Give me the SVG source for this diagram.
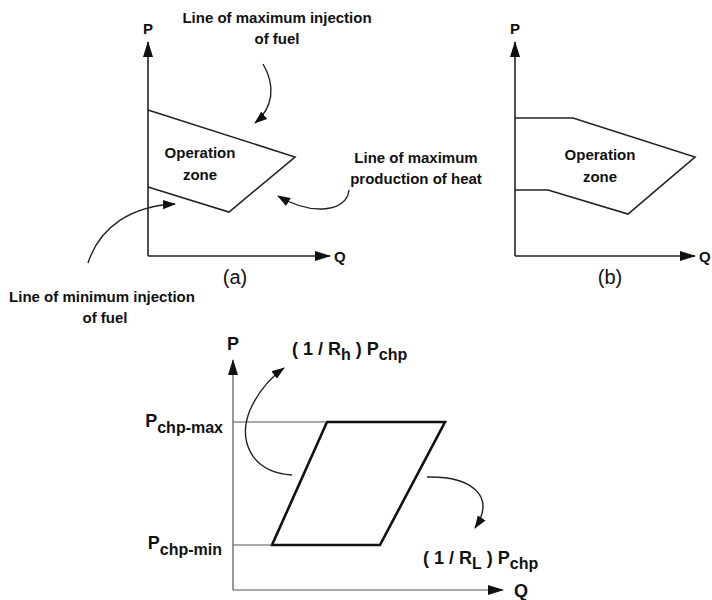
<svg xmlns="http://www.w3.org/2000/svg" width="712" height="600" viewBox="0 0 712 600">
<defs>
<marker id="ah" viewBox="0 0 16 10" refX="15" refY="5" markerWidth="16" markerHeight="10" markerUnits="userSpaceOnUse" orient="auto">
<path d="M0,0 L16,5 L0,10 Z" fill="#111"/>
</marker>
<marker id="ca" viewBox="0 0 14 10" refX="13" refY="5" markerWidth="13" markerHeight="10" markerUnits="userSpaceOnUse" orient="auto">
<path d="M0,0 L14,5 L0,10 Z" fill="#111"/>
</marker>
</defs>
<style>
.t{font-family:"Liberation Sans",Arial,sans-serif;font-weight:bold;font-size:15px;fill:#111;}
.c{text-anchor:middle;}
.lbl{font-family:"Liberation Sans",Arial,sans-serif;font-size:20px;fill:#111;text-anchor:middle;}
.big{font-family:"Liberation Sans",Arial,sans-serif;font-weight:bold;font-size:18px;fill:#111;}
.sub{font-size:16px;}
.ax{stroke:#222;stroke-width:1.6;fill:none;}
.ax2{stroke:#555;stroke-width:1.2;fill:none;}
.zone{stroke:#222;stroke-width:1.6;fill:none;}
.zone2{stroke:#111;stroke-width:2.6;fill:none;}
.cur{stroke:#222;stroke-width:1.4;fill:none;}
</style>
<rect width="712" height="600" fill="#fff"/>

<g id="panel-a">
<path class="zone" d="M148,110 L295,157 L229,212 L148,187"/>
<text class="t c" x="200" y="158">Operation</text>
<text class="t c" x="200" y="180">zone</text>
<text class="t c" x="148" y="34">P</text>
<text class="t" x="334" y="262">Q</text>
<text class="lbl" x="235" y="284">(a)</text>
</g>

<g id="label-max-injection">
<text class="t c" x="277" y="23">Line of maximum injection</text>
<text class="t c" x="277" y="44">of fuel</text>
</g>
<g id="label-max-heat">
<text class="t c" x="416" y="163">Line of maximum</text>
<text class="t c" x="416" y="184">production of heat</text>
</g>
<g id="label-min-injection">
<text class="t c" x="102" y="302">Line of minimum injection</text>
<text class="t c" x="105" y="323">of fuel</text>
</g>

<g id="panel-b">
<path class="zone" d="M515,118 L573,118 L695,157 L628,214 L548,190 L515,190"/>
<text class="t c" x="600" y="160">Operation</text>
<text class="t c" x="600" y="182">zone</text>
<text class="t c" x="515" y="34">P</text>
<text class="t" x="699" y="262">Q</text>
<text class="lbl" x="610" y="284">(b)</text>
</g>

<g id="panel-c">
<path class="zone2" d="M327,422 L445,422 L380,545 L272,545 Z"/>
<text class="big" x="233" y="350" text-anchor="middle">P</text>
<text class="big" x="514" y="597">Q</text>
<text class="big" x="223" y="427" text-anchor="end">P<tspan class="sub" dy="6">chp-max</tspan></text>
<text class="big" x="222" y="549" text-anchor="end">P<tspan class="sub" dy="6">chp-min</tspan></text>
<text class="big" x="292" y="355">( 1 / R<tspan class="sub" dy="5">h</tspan><tspan dy="-5"> ) P</tspan><tspan class="sub" dy="5">chp</tspan></text>
<text class="big" x="423" y="564">( 1 / R<tspan class="sub" dy="5">L</tspan><tspan dy="-5"> ) P</tspan><tspan class="sub" dy="5">chp</tspan></text>
</g>

<g id="connectors">
<path class="ax" d="M148,256 L148,42" marker-end="url(#ah)"/>
<path class="ax" d="M148,256 L330,256" marker-end="url(#ah)"/>
<path class="ax" d="M515,256 L515,42" marker-end="url(#ah)"/>
<path class="ax" d="M515,256 L695,256" marker-end="url(#ah)"/>
<path class="ax2" d="M233,590 L233,360" marker-end="url(#ah)"/>
<path class="ax2" d="M233,590 L503,590" marker-end="url(#ah)"/>
<path class="ax2" d="M233,422 L327,422"/>
<path class="ax2" d="M233,545 L272,545"/>
<path class="cur" d="M263,64 C276,86 273,108 255,123" marker-end="url(#ca)"/>
<path class="cur" d="M349,190 C347,212 312,216 278,196" marker-end="url(#ca)"/>
<path class="cur" d="M88,263 C100,226 132,206 175,204" marker-end="url(#ca)"/>
<path class="cur" d="M292,475 C250,472 238,440 250,410 C258,392 270,378 284,368" marker-end="url(#ca)"/>
<path class="cur" d="M427,477 C470,476 497,495 475,528" marker-end="url(#ca)"/>
</g>
</svg>
